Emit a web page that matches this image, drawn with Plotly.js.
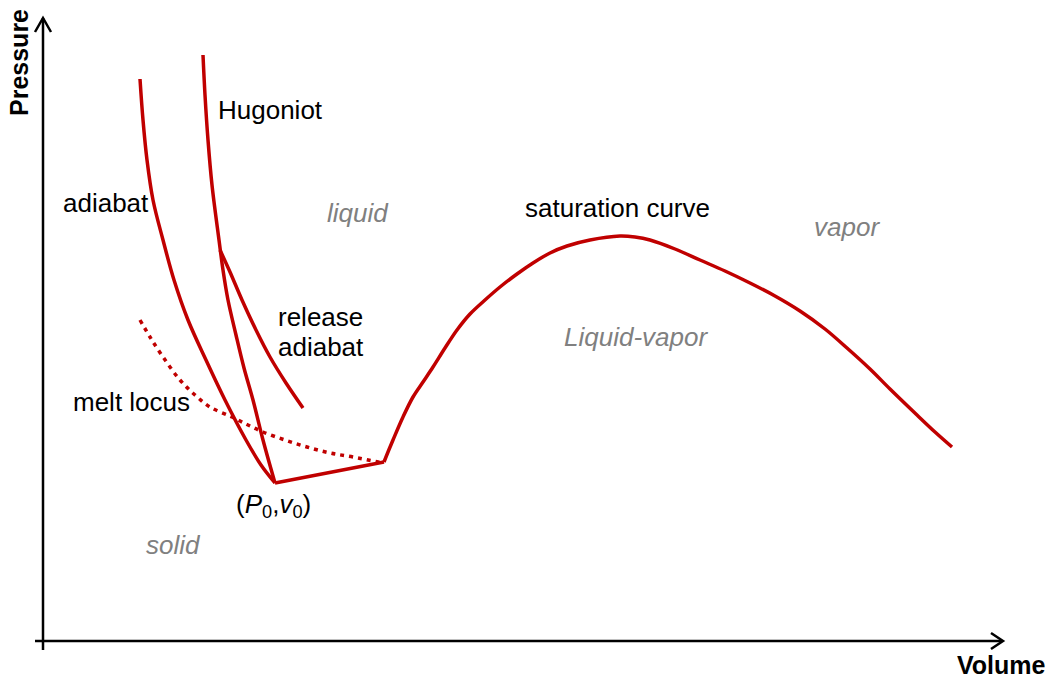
<!DOCTYPE html>
<html>
<head>
<meta charset="utf-8">
<script src="https://cdn.plot.ly/plotly-3.0.1.min.js"></script>
<style>html,body{margin:0;padding:0;background:#fff;}#chart{width:1049px;height:680px;}</style>
</head>
<body>
<div id="chart"></div>
<script>
// Schematic phase diagram (arbitrary units: volume to the right, pressure upward)
const adiabatV = [140,143,147,153,163,174,188,206,225,246,261,275];
const adiabatP = [601,560,520,480,440,400,360,320,280,240,215,197];

const hugoniotV = [203,205,208,212,219,223,228,236,244,253,263,275];
const hugoniotP = [625,585,540,495,440,410,380,345,312,280,240,197];

const releaseV = [220,230,242,256,270,286,303];
const releaseP = [430,408,380,350,323,297,272];

const meltV = [140,150,163,180,195,210,232,248,263,285,307,330,353,383];
const meltP = [360,343,323,300,285,273,263,255,248,240,233,227,223,217];

const baseV = [275,384];
const baseP = [197,218];

const satV = [384,388,393,403,413,423,433,445,457,470,485,500,517,533,550,567,590,620,635,650,675,700,725,750,775,800,825,847,870,890,917,935,952];
const satP = [218,228,240,263,283,298,313,332,350,366,380,393,406,417,427,434,440,444,443,440,431,420,409,397,384,369,351,332,311,291,265,248,233];

const RED = '#c00000';
const FONT = 'Liberation Sans, Arial, sans-serif';
const LW = 3.5;

function line(x, y, extra) {
  return Object.assign({x: x, y: y, mode: 'lines', type: 'scatter', hoverinfo: 'skip',
    line: {color: RED, width: LW}}, extra || {});
}
const smooth = {color: RED, width: LW, shape: 'spline', smoothing: 1};

const traces = [
  line(adiabatV, adiabatP, {line: smooth}),
  line(hugoniotV, hugoniotP, {line: smooth}),
  line(releaseV, releaseP, {line: smooth}),
  line(meltV, meltP, {line: Object.assign({}, smooth, {dash: '4px,5px'})}),
  line(baseV, baseP),
  line(satV, satP, {line: smooth})
];

function lbl(text, x, y, opts) {
  return Object.assign({text: text, x: x, y: y, xref: 'x', yref: 'y', showarrow: false,
    xanchor: 'left', yanchor: 'middle', align: 'left',
    font: {family: FONT, size: 26, color: '#000'}}, opts || {});
}
const gray = {family: FONT, size: 26, color: '#808080'};
const bold = {family: FONT, size: 25, color: '#000'};

const annotations = [
  lbl('Hugoniot', 216, 570),
  lbl('adiabat', 61, 477),
  lbl('<i>liquid</i>', 325, 467, {font: gray}),
  lbl('saturation curve', 523, 472),
  lbl('<i>vapor</i>', 812, 453, {font: gray}),
  lbl('release', 276, 363),
  lbl('adiabat', 276, 333),
  lbl('<i>Liquid-vapor</i>', 562, 343, {font: gray}),
  lbl('melt locus', 71, 278),
  lbl('(<i>P</i><sub>0</sub>,<i>v</i><sub>0</sub>)', 234, 175),
  lbl('<i>solid</i>', 144, 135, {font: gray}),
  lbl('<b>Pressure</b>', 19, 617, {xanchor: 'center', textangle: -90, font: bold}),
  lbl('<b>Volume</b>', 1048, 15, {xanchor: 'right', font: bold})
];

const axLine = {color: '#000', width: 2.5};
const shapes = [
  {type: 'line', xref: 'x', yref: 'y', x0: 43, y0: 30, x1: 43, y1: 662, line: axLine},
  {type: 'path', xref: 'x', yref: 'y', path: 'M 35,648 L 43,662 L 51,648', line: axLine},
  {type: 'line', xref: 'x', yref: 'y', x0: 35, y0: 39, x1: 1002, y1: 39, line: axLine},
  {type: 'path', xref: 'x', yref: 'y', path: 'M 991,47 L 1003,39 L 991,31', line: axLine}
];

const layout = {
  width: 1049, height: 680,
  margin: {l: 0, r: 0, t: 0, b: 0},
  paper_bgcolor: '#fff', plot_bgcolor: '#fff',
  showlegend: false,
  xaxis: {range: [0, 1049], visible: false, fixedrange: true},
  yaxis: {range: [0, 680], visible: false, fixedrange: true},
  annotations: annotations,
  shapes: shapes
};

Plotly.newPlot('chart', traces, layout, {staticPlot: true, displayModeBar: false});
</script>
</body>
</html>
